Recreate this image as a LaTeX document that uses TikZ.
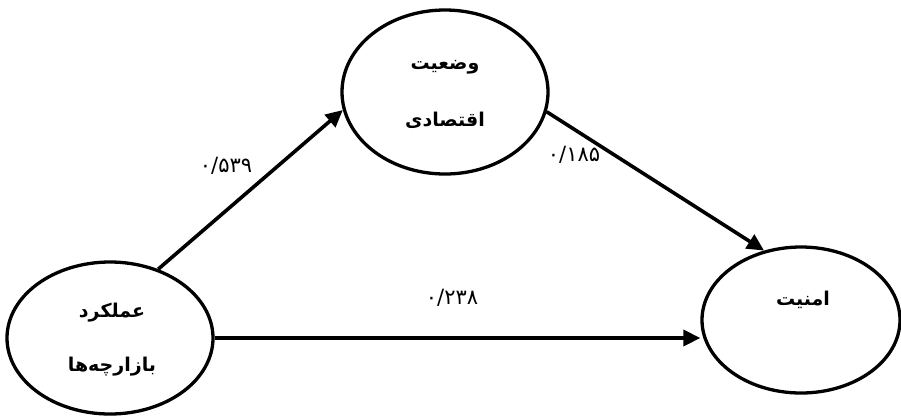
\documentclass[tikz,border=0pt]{standalone}
\usepackage{fontspec}
\usetikzlibrary{shapes.geometric,arrows.meta}
\TeXXeTstate=1
\newfontfamily\arabicfont[Script=Arabic]{DejaVu Sans}
\begin{document}
\begin{tikzpicture}[x=1pt,y=-1pt,
  construct/.style={draw,ellipse,line width=3.3pt,inner sep=0pt,fill=white},
  path/.style={line width=3.6pt,-{Triangle[length=17pt,width=16pt]}},
  txt/.style={font=\arabicfont\bfseries\fontsize{19}{22}\selectfont,align=center},
  coef/.style={font=\arabicfont\fontsize{21}{24}\selectfont}]
\useasboundingbox (0,0) rectangle (901,416);
\node[construct,minimum width=206pt,minimum height=164pt] (T) at (445,92) {};
\node[construct,minimum width=206pt,minimum height=152pt] (L) at (110,338) {};
\node[construct,minimum width=198pt,minimum height=146pt] (R) at (801,320) {};
\node[txt] (Tt1) at (445,67) {\beginR وضعیت\endR};
\node[txt] (Tt2) at (445,120) {\beginR اقتصادی\endR};
\node[txt] (Lt1) at (112,313) {\beginR عملکرد\endR};
\node[txt] (Lt2) at (112,367) {\beginR بازارچه‌ها\endR};
\node[txt] (Rt) at (803,300) {\beginR امنیت\endR};
\draw[path] (L.55) -- (T.190);
\draw[path] (T.349) -- (R.118);
\draw[path] (L.east) -- (L.east -| R.west);
\node[coef] (c1) at (226,166) {۰/۵۳۹};
\node[coef] (c2) at (574,155) {۰/۱۸۵};
\node[coef] (c3) at (452,298) {۰/۲۳۸};
\end{tikzpicture}
\end{document}
